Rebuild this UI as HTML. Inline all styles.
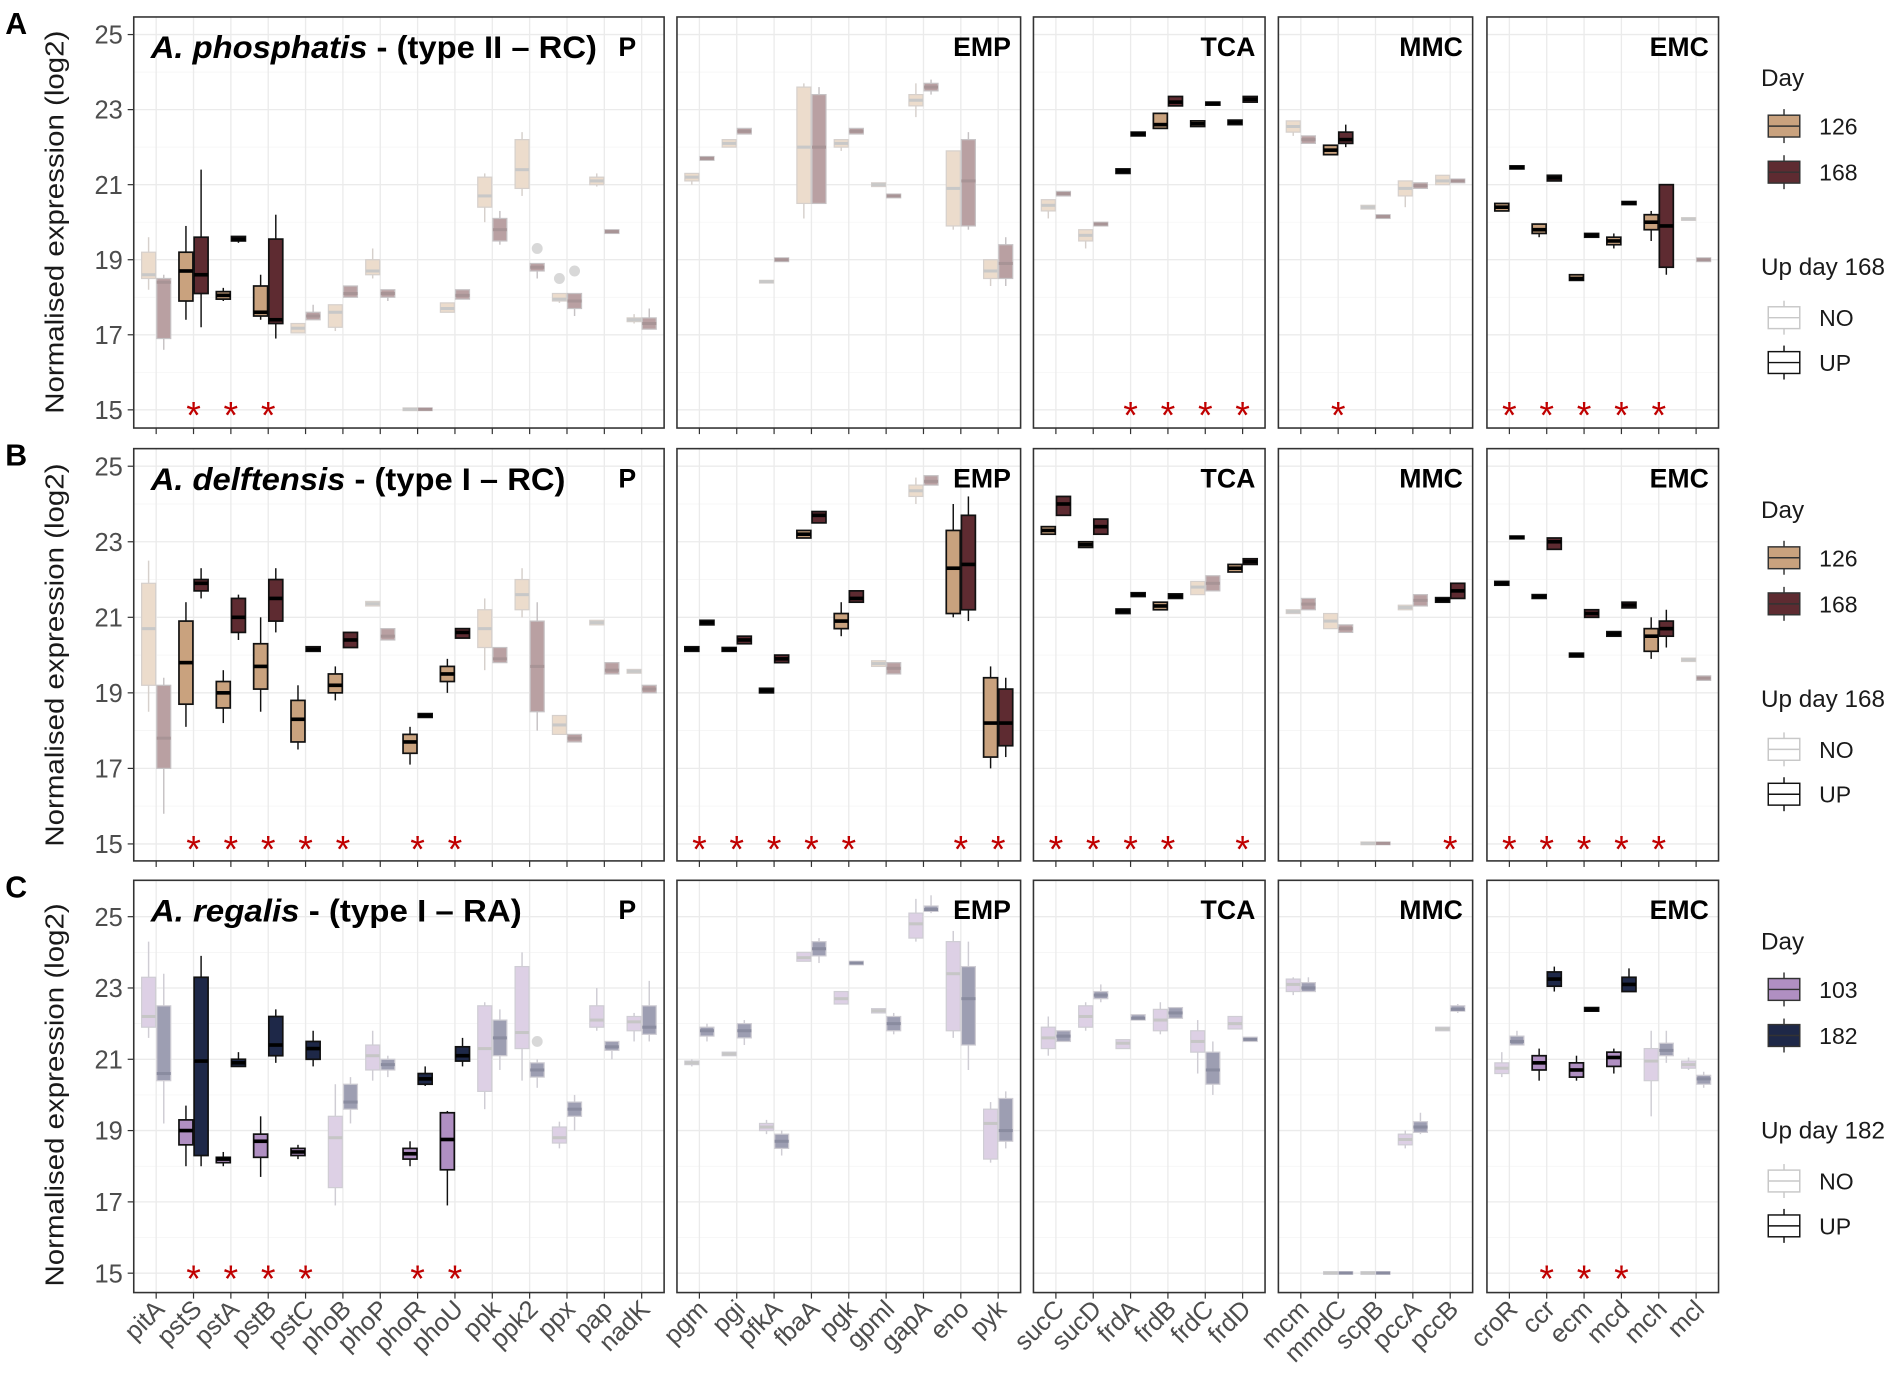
<!DOCTYPE html>
<html><head><meta charset="utf-8">
<style>
html,body{margin:0;padding:0;background:#fff;}
svg{display:block;}
text{font-family:"Liberation Sans",sans-serif;}
</style></head>
<body>
<svg id="s" xmlns="http://www.w3.org/2000/svg" width="1902" height="1392" viewBox="0 0 1568 1148"></svg>
<script>
const S=document.getElementById('s');let h='';
const panels=[[110,14,'P'],[558,9,'EMP'],[852,6,'TCA'],[1054,5,'MMC'],[1226,6,'EMC']];
const names=[['pitA','pstS','pstA','pstB','pstC','phoB','phoP','phoR','phoU','ppk','ppk2','ppx','pap','nadK'],
['pgm','pgi','pfkA','fbaA','pgk','gpml','gapA','eno','pyk'],
['sucC','sucD','frdA','frdB','frdC','frdD'],
['mcm','mmdC','scpB','pccA','pccB'],
['croR','ccr','ecm','mcd','mch','mcl']];
const SP=30.8,PAD=18.5;
function pw(n){return (n-1)*SP+2*PAD;}
const rows=[
{top:14,bot:353,y25:28.5,y15:338,lbl:'A',t1:'A. phosphatis',t2:' - (type II – RC)',tl:368,
 c1:'#c9a27e',c2:'#5e2b31',f1:'#ecdccc',f2:'#b9a0a2',m1:'#c8c8c8',m2:'#a89496',lg:['126','168','Up day 168'],
 d:[[
 [0,[18.5,19.2,18.6,18.2,19.6],[16.9,18.5,18.4,16.6,18.6]],
 [1,[17.9,19.2,18.7,17.4,19.9],[18.1,19.6,18.6,17.2,21.4],1],
 [1,[17.95,18.15,18.05,17.9,18.25],[19.5,19.62,19.55,19.45,19.62],1],
 [1,[17.5,18.3,17.6,17.4,18.6],[17.3,19.55,17.4,16.9,20.2],1],
 [0,[17.05,17.3],[17.4,17.6,17.5,17.4,17.8]],
 [0,[17.2,17.8,17.6,17.1,17.8],[18.0,18.3,18.1]],
 [0,[18.6,19.0,18.7,18.5,19.3],[18.0,18.2,18.1,17.9,18.2]],
 [0,[14.98,15.05],[14.98,15.05]],
 [0,[17.6,17.85,17.7],[17.95,18.2,18.05]],
 [0,[20.4,21.2,20.7,20,21.3],[19.5,20.1,19.8,19.4,20.3]],
 [0,[20.9,22.2,21.4,20.7,22.4],[18.7,18.9,18.8,18.5,18.9,19.3]],
 [0,[17.9,18.1,17.95,17.85,18.1,18.5],[17.7,18.1,17.9,17.5,18.1,18.7]],
 [0,[21.0,21.2,21.1,20.95,21.3],[19.7,19.8,19.75]],
 [0,[17.35,17.45,17.4,17.3,17.55],[17.15,17.45,17.3,17.15,17.7]]],
 [[0,[21.1,21.3,21.2,21.0,21.3],[21.65,21.75]],
 [0,[22.0,22.2,22.1],[22.35,22.5]],
 [0,[18.38,18.45],[18.95,19.05]],
 [0,[20.5,23.6,22.0,20.1,23.7],[20.5,23.4,22.0,20.5,23.6]],
 [0,[22.0,22.2,22.1,21.9,22.2],[22.35,22.5]],
 [0,[20.95,21.05],[20.65,20.75]],
 [0,[23.1,23.4,23.25,22.8,23.7],[23.5,23.7,23.6,23.4,23.8]],
 [0,[19.9,21.9,20.9,19.8,21.9],[19.9,22.2,21.1,19.8,22.4]],
 [0,[18.5,19.0,18.7,18.3,19.0],[18.5,19.4,18.9,18.3,19.6]]],
 [[0,[20.3,20.6,20.45,20.1,20.6],[20.7,20.82]],
 [0,[19.5,19.8,19.65,19.3,19.8],[19.9,20.0]],
 [1,[21.3,21.42],[22.3,22.4],1],
 [1,[22.5,22.9,22.6],[23.1,23.35,23.2],1],
 [1,[22.55,22.7],[23.12,23.2],1],
 [1,[22.6,22.72],[23.2,23.35],1]],
 [[0,[22.4,22.7,22.55,22.3,22.7],[22.1,22.3]],
 [1,[21.8,22.05,21.92],[22.1,22.4,22.2,22.0,22.6],1],
 [0,[20.35,20.45],[20.1,20.2]],
 [0,[20.7,21.1,20.9,20.4,21.1],[20.9,21.05]],
 [0,[21.0,21.25,21.1],[21.05,21.15]]],
 [[1,[20.3,20.5,20.4],[21.42,21.5],1],
 [1,[19.7,19.95,19.8,19.6,19.95],[21.1,21.25,21.18],1],
 [1,[18.45,18.6,18.5],[19.6,19.7],1],
 [1,[19.4,19.6,19.5,19.3,19.7],[20.47,20.55],1],
 [1,[19.8,20.2,20.0,19.5,20.3],[18.8,21.0,19.9,18.6,21.0],1],
 [0,[20.05,20.12],[18.95,19.05]]]]},
{top:370,bot:710,y25:384.5,y15:696,lbl:'B',t1:'A. delftensis',t2:' - (type I – RC)',tl:342,
 c1:'#c9a27e',c2:'#5e2b31',f1:'#ecdccc',f2:'#b9a0a2',m1:'#c8c8c8',m2:'#a89496',lg:['126','168','Up day 168'],
 d:[[
 [0,[19.2,21.9,20.7,18.5,22.5],[17.0,19.2,17.8,15.8,19.4]],
 [1,[18.7,20.9,19.8,18.1,21.4],[21.7,22.0,21.9,21.5,22.3],1],
 [1,[18.6,19.3,19.0,18.2,19.6],[20.6,21.5,21.0,20.4,21.6],1],
 [1,[19.1,20.3,19.7,18.5,21.0],[20.9,22.0,21.5,20.6,22.3],1],
 [1,[17.7,18.8,18.3,17.5,19.2],[20.1,20.22,20.15],1],
 [1,[19.0,19.5,19.2,18.8,19.7],[20.2,20.6,20.4],1],
 [0,[21.3,21.42],[20.4,20.7,20.5]],
 [1,[17.4,17.9,17.7,17.1,18.1],[18.35,18.45],1],
 [1,[19.3,19.7,19.5,19.0,19.9],[20.45,20.7,20.6],1],
 [0,[20.2,21.2,20.7,19.6,21.5],[19.8,20.2,19.9]],
 [0,[21.2,22.0,21.6,21.0,22.3],[18.5,20.9,19.7,18.0,21.4]],
 [0,[17.9,18.4,18.15],[17.7,17.9]],
 [0,[20.8,20.92],[19.5,19.8,19.6]],
 [0,[19.52,19.62],[19.0,19.2]]],
 [[1,[20.1,20.22],[20.8,20.92],1],
 [1,[20.1,20.2],[20.3,20.5,20.4],1],
 [1,[19.0,19.12],[19.8,20.0,19.9],1],
 [1,[23.1,23.3,23.2],[23.5,23.8,23.7],1],
 [1,[20.7,21.1,20.9,20.5,21.4],[21.4,21.7,21.5],1],
 [0,[19.7,19.85],[19.5,19.8,19.65]],
 [0,[24.2,24.5,24.35,24.0,24.7],[24.5,24.75,24.6]],
 [1,[21.1,23.3,22.3,21.0,24.0],[21.2,23.7,22.4,20.9,24.2],1],
 [1,[17.3,19.4,18.2,17.0,19.7],[17.6,19.1,18.2,17.3,19.4],1]],
 [[1,[23.2,23.4,23.3],[23.7,24.2,24.0],1],
 [1,[22.85,23.0],[23.2,23.6,23.4],1],
 [1,[21.1,21.22],[21.55,21.65],1],
 [1,[21.2,21.4,21.3],[21.5,21.62],1],
 [0,[21.6,21.95,21.8],[21.7,22.1,21.9]],
 [1,[22.2,22.4,22.3],[22.4,22.55],1]],
 [[0,[21.1,21.2],[21.2,21.5,21.35]],
 [0,[20.7,21.1,20.9],[20.6,20.8]],
 [0,[14.98,15.05],[14.98,15.05]],
 [0,[21.2,21.32],[21.3,21.6,21.45]],
 [1,[21.4,21.52],[21.5,21.9,21.7],1]],
 [[1,[21.85,21.95],[23.08,23.15],1],
 [1,[21.5,21.6],[22.8,23.1,23.0],1],
 [1,[19.95,20.05],[21.0,21.2],1],
 [1,[20.5,20.62],[21.25,21.4],1],
 [1,[20.1,20.7,20.5,19.9,21.0],[20.5,20.9,20.7,20.2,21.2],1],
 [0,[19.83,19.92],[19.33,19.45]]]]},
{top:726,bot:1066,y25:756,y15:1050,lbl:'C',t1:'A. regalis',t2:' - (type I – RA)',tl:306,
 c1:'#b08fc2',c2:'#1e2848',f1:'#ddd0e5',f2:'#9d9eb2',m1:'#c6c6c6',m2:'#8a8ca0',lg:['103','182','Up day 182'],
 d:[[
 [0,[21.9,23.3,22.2,21.6,24.3],[20.4,22.5,20.6,19.2,23.4]],
 [1,[18.6,19.3,19.0,18.0,19.7],[18.3,23.3,20.95,18.0,23.9],1],
 [1,[18.1,18.25,18.2,18.0,18.4],[20.8,21.0,20.9,20.8,21.2],1],
 [1,[18.25,18.9,18.7,17.7,19.4],[21.1,22.2,21.4,20.9,22.4],1],
 [1,[18.3,18.5,18.4,18.2,18.6],[21.0,21.5,21.3,20.8,21.8],1],
 [0,[17.4,19.4,18.8,16.9,20.3],[19.6,20.3,19.8,19.2,20.5]],
 [0,[20.7,21.4,21.1,20.4,21.8],[20.7,21.0,20.85,20.5,21.1]],
 [1,[18.2,18.5,18.35,18.0,18.7],[20.3,20.6,20.45,20.25,20.8],1],
 [1,[17.9,19.5,18.75,16.9,19.55],[20.95,21.35,21.1,20.8,21.6],1],
 [0,[20.1,22.5,21.3,19.6,22.6],[21.1,22.1,21.6,20.7,22.4]],
 [0,[21.3,23.6,21.75,20.4,24.0],[20.5,20.9,20.7,20.2,21.0,21.5]],
 [0,[18.65,19.1,18.8,18.5,19.25],[19.4,19.8,19.6,19.0,20.0]],
 [0,[21.9,22.5,22.1,21.8,23.0],[21.25,21.5,21.35,21.0,21.5]],
 [0,[21.8,22.2,22.05,21.5,22.3],[21.7,22.5,21.9,21.5,23.2]]],
 [[0,[20.85,20.95,20.9,20.8,21.0],[21.65,21.9,21.8,21.5,22.0]],
 [0,[21.1,21.2],[21.6,22.0,21.8,21.4,22.1]],
 [0,[19.0,19.2,19.1,18.9,19.3],[18.5,18.9,18.7,18.3,19.0]],
 [0,[23.75,24.0,23.85],[23.9,24.3,24.1,23.7,24.4]],
 [0,[22.55,22.9,22.7],[23.65,23.75]],
 [0,[22.3,22.42],[21.8,22.2,22.0,21.7,22.3]],
 [0,[24.4,25.1,24.8,24.3,25.5],[25.15,25.3,25.2,25.1,25.6]],
 [0,[21.8,24.3,23.4,21.6,24.6],[21.4,23.6,22.7,20.7,24.3]],
 [0,[18.2,19.6,19.2,18.1,19.8],[18.7,19.9,19.0,18.5,20.1]]],
 [[0,[21.3,21.9,21.6,21.1,22.2],[21.5,21.8,21.65]],
 [0,[21.9,22.5,22.2,21.8,22.6],[22.7,22.9,22.8,22.6,23.1]],
 [0,[21.3,21.55,21.45],[22.1,22.25,22.15]],
 [0,[21.8,22.4,22.1,21.7,22.6],[22.15,22.45,22.3]],
 [0,[21.2,21.8,21.5,20.6,22.1],[20.3,21.2,20.7,20.0,21.5]],
 [0,[21.85,22.2,22.0],[21.5,21.62]]],
 [[0,[22.9,23.25,23.1,22.8,23.3],[22.9,23.15,23.0,22.9,23.3]],
 [0,[14.97,15.04],[14.97,15.04]],
 [0,[14.97,15.04],[14.97,15.04]],
 [0,[18.6,18.9,18.75,18.5,19.0],[18.95,19.25,19.1,18.9,19.5]],
 [0,[21.8,21.9],[22.35,22.5,22.4,22.3,22.55]]],
 [[0,[20.6,20.9,20.75,20.5,21.2],[21.4,21.65,21.5,21.4,21.8],0],
 [1,[20.7,21.1,20.9,20.4,21.3],[23.05,23.45,23.25,22.9,23.6],1],
 [1,[20.5,20.9,20.7,20.4,21.1],[22.35,22.45,22.4],1],
 [1,[20.8,21.2,21.05,20.6,21.3],[22.9,23.3,23.1,22.9,23.55],1],
 [0,[20.4,21.3,20.95,19.4,21.8],[21.1,21.45,21.25,20.9,21.8]],
 [0,[20.75,20.95,20.85,20.7,21.05],[20.3,20.55,20.45,20.2,20.65]]]]}
];
function R(x,y,w,hh,f,s,sw){return `<rect x="${x}" y="${y}" width="${w}" height="${Math.max(hh,1)}" fill="${f}" stroke="${s}" stroke-width="${sw}"/>`;}
function L(x1,y1,x2,y2,s,sw){return `<line x1="${x1}" y1="${y1}" x2="${x2}" y2="${y2}" stroke="${s}" stroke-width="${sw}"/>`;}
rows.forEach((r,ri)=>{
  const Y=v=>r.y15+(r.y25-r.y15)*(v-15)/10;
  h+=`<text x="4" y="${r.top+14}" font-size="25" font-weight="bold">${r.lbl}</text>`;
  const cy=(r.y25+r.y15)/2;
  h+=`<text x="0" y="0" transform="translate(52,${cy}) rotate(-90)" text-anchor="middle" font-size="21" fill="#1a1a1a" textLength="316" lengthAdjust="spacingAndGlyphs">Normalised expression (log2)</text>`;
  for(let v=15;v<=25;v+=2){h+=`<text x="101" y="${Y(v)+7.5}" text-anchor="end" font-size="21" fill="#4d4d4d">${v}</text>`;h+=L(105,Y(v),110,Y(v),'#333',1);}
  panels.forEach((p,pi)=>{
    const x0=p[0],w=pw(p[1]);
    h+=`<rect x="${x0}" y="${r.top}" width="${w}" height="${r.bot-r.top}" fill="#fff"/>`;
    for(let v=14;v<=26;v+=1){const y=Y(v);if(y<r.top||y>r.bot)continue;h+=L(x0,y,x0+w,y,v%2?'#ebebeb':'#f4f4f4',v%2?1.1:0.6);}
    for(let i=0;i<p[1];i++){const gx=x0+PAD+SP*i;h+=L(gx,r.top,gx,r.bot,'#ebebeb',1.1);}
    const data=r.d[pi];
    data.forEach((g,i)=>{
      const gx=x0+PAD+SP*i, up=g[0];
      [g[1],g[2]].forEach((b,k)=>{
        if(!b)return;
        let [q1,q3,med,lo,hi,out]=b;
        if(med===undefined)med=(q1+q3)/2;
        if(lo===undefined)lo=q1;if(hi===undefined)hi=q3;
        const bx=k?gx+0.5:gx-12,bw=11.5,cx=bx+bw/2;
        let fill,st,mc,sw,mw;
        if(up){fill=k?r.c2:r.c1;st='#111';mc='#000';sw=1.4;mw=3;}
        else{fill=k?r.f2:r.f1;st=k?'#c6c2c4':'#d6d0cc';mc=k?r.m2:r.m1;sw=1;mw=2.5;if(ri==2){st='#cfcdd4';}}
        h+=L(cx,Y(hi),cx,Y(lo),up?'#111':st,1.2);
        h+=R(bx,Y(q3),bw,Y(q1)-Y(q3),fill,st,sw);
        h+=L(bx,Y(med),bx+bw,Y(med),mc,mw);
        if(out!==undefined)h+=`<circle cx="${cx}" cy="${Y(out)}" r="4.5" fill="#d8d8d8"/>`;
      });
      if(g[3])h+=`<text x="${gx}" y="${r.y15+15}" text-anchor="middle" font-size="31" fill="#c00000">*</text>`;
    });
    h+=`<rect x="${x0}" y="${r.top}" width="${w}" height="${r.bot-r.top}" fill="none" stroke="#333" stroke-width="1.3"/>`;
    for(let i=0;i<p[1];i++){const gx=x0+PAD+SP*i;h+=L(gx,r.bot,gx,r.bot+5,'#333',1);}
    if(pi==0)h+=`<text x="517" y="${r.top+32}" text-anchor="middle" font-size="22" font-weight="bold">P</text>`;
    else h+=`<text x="${x0+w-8}" y="${r.top+32}" text-anchor="end" font-size="22" font-weight="bold">${p[2]}</text>`;
  });
  h+=`<text x="124" y="${r.top+34}" font-size="26" font-weight="bold" textLength="${r.tl}" lengthAdjust="spacingAndGlyphs"><tspan font-style="italic">${r.t1}</tspan>${r.t2}</text>`;
  const lt=r.top;
  h+=`<text x="1452" y="${lt+57}" font-size="20" fill="#1a1a1a">Day</text>`;
  [[lt+90,r.c1,r.lg[0]],[lt+128,r.c2,r.lg[1]]].forEach(e=>{
    h+=L(1471,e[0]-14,1471,e[0]+14,'#333',1.2);h+=R(1458,e[0]-9,26,18,e[1],'#333',1.2);h+=L(1458,e[0],1484,e[0],'#333',1.2);
    h+=`<text x="1500" y="${e[0]+7}" font-size="19" fill="#1a1a1a">${e[2]}</text>`;});
  h+=`<text x="1452" y="${lt+213}" font-size="20" fill="#1a1a1a">${r.lg[2]}</text>`;
  [[lt+248,'#c8c8c8','NO'],[lt+285,'#111','UP']].forEach(e=>{
    h+=L(1471,e[0]-14,1471,e[0]+14,e[1],1.2);h+=R(1458,e[0]-9,26,18,'#fff',e[1],1.2);h+=L(1458,e[0],1484,e[0],e[1],1.2);
    h+=`<text x="1500" y="${e[0]+7}" font-size="19" fill="#1a1a1a">${e[2]}</text>`;});
});
panels.forEach((p,pi)=>{names[pi].forEach((n,i)=>{const gx=p[0]+PAD+SP*i;
  h+=`<text x="0" y="0" transform="translate(${gx+8},${1081}) rotate(-45)" text-anchor="end" font-size="21" fill="#4d4d4d">${n}</text>`;});});
S.innerHTML=h;
</script>
</body></html>
